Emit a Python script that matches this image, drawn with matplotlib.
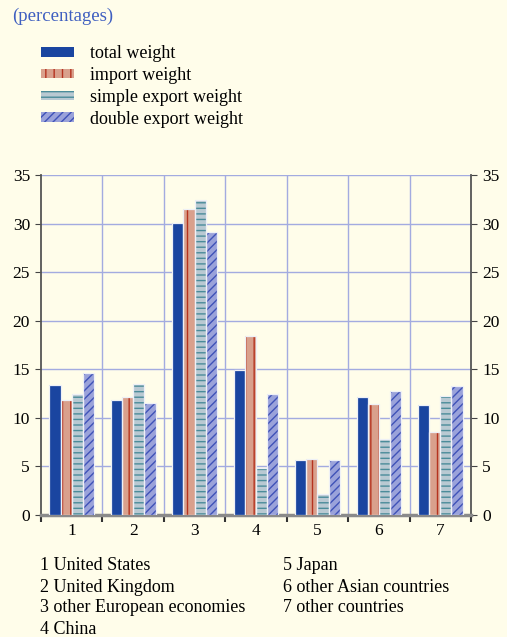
import numpy as np
import matplotlib.pyplot as plt
from matplotlib.patches import Patch

plt.rcParams['font.family'] = ['Liberation Serif', 'DejaVu Serif']
plt.rcParams['hatch.linewidth'] = 1.0

groups = ['1', '2', '3', '4', '5', '6', '7']
series = ['total weight', 'import weight', 'simple export weight', 'double export weight']
total = [13.4, 11.8, 30.1, 14.9, 5.7, 12.2, 11.3]
imports = [11.8, 12.2, 31.5, 18.4, 5.8, 11.4, 8.6]
simple_exp = [12.45, 13.5, 32.4, 4.8, 2.2, 7.8, 12.25]
double_exp = [14.6, 11.5, 29.1, 12.45, 5.7, 12.75, 13.3]
notes_left = ['1 United States', '2 United Kingdom', '3 other European economies', '4 China']
notes_right = ['5 Japan', '6 other Asian countries', '7 other countries']

bg = '#fffdea'
fills = ['#1a45a0', '#d9a08c', '#b9c9d2', '#9aa2da']
hatch_cols = [None, '#b5331f', '#4b8c9a', '#3f52b8']
hatches = [None, '||', '---', '////']

fig = plt.figure(figsize=(5.07, 6.37), dpi=100, facecolor=bg)
ax = fig.add_axes([0.081, 0.1915, 0.848, 0.5335], facecolor=bg)

x = np.arange(len(groups))
step = 0.182
width = 0.182
data = [total, imports, simple_exp, double_exp]
for i, vals in enumerate(data):
    pos = x + (i - 1.5) * step
    if hatches[i]:
        ax.bar(pos, vals, width, color=fills[i], linewidth=0, zorder=3)
        ax.bar(pos, vals, width, fill=False, hatch=hatches[i],
               edgecolor=hatch_cols[i], linewidth=0, zorder=4)
    else:
        ax.bar(pos, vals, width, color=fills[i], linewidth=0, zorder=3)
    ax.bar(pos, vals, width, fill=False, edgecolor='#eef0f6', linewidth=0.9, zorder=5)

ax.set_xlim(-0.5, 6.5)
ax.set_ylim(0, 35)
ax.set_yticks(np.arange(0, 36, 5))
ax.set_xticks(x)
ax.set_xticklabels(groups)
ax.set_xticks(np.arange(-0.5, 7, 1), minor=True)

grid_c = '#a3abe0'
for yv in range(5, 36, 5):
    ax.axhline(yv, color=grid_c, lw=1, zorder=1)
for xv in np.arange(0.5, 6.5, 1):
    ax.axvline(xv, color=grid_c, lw=1, zorder=1)

ax.tick_params(axis='y', which='both', left=True, right=True, labelleft=True,
               labelright=True, direction='out', length=4, color='#444444',
               labelsize=12.5, pad=4)
ax.tick_params(axis='x', which='major', length=0, labelsize=12.5, pad=6)
ax.tick_params(axis='x', which='minor', length=5, width=1.5, color='#333333', direction='out')

ax.spines['top'].set_visible(False)
for s in ['left', 'right']:
    ax.spines[s].set_color('#555555')
    ax.spines[s].set_linewidth(1.3)
ax.spines['bottom'].set_color('#8a8a8a')
ax.spines['bottom'].set_linewidth(2.5)

fig.text(12 / 507, 1 - 16 / 637, '(percentages)', color='#3f5fc0', fontsize=13.5,
         va='center', ha='left')

handles = []
for i in range(4):
    if hatches[i]:
        handles.append(Patch(facecolor=fills[i], edgecolor=hatch_cols[i], hatch=hatches[i], linewidth=0))
    else:
        handles.append(Patch(facecolor=fills[i], edgecolor=fills[i], linewidth=0))
fig.legend(handles, series, loc='upper left', bbox_to_anchor=(36 / 507, 1 - 40 / 637),
           frameon=False, fontsize=13, handlelength=1.8, handleheight=0.4,
           handletextpad=0.9, labelspacing=0.26, borderaxespad=0, borderpad=0.3)

for k, t in enumerate(notes_left):
    fig.text(40 / 507, 1 - (566 + 21 * k) / 637, t, fontsize=13, va='center', ha='left')
for k, t in enumerate(notes_right):
    fig.text(283 / 507, 1 - (566 + 21 * k) / 637, t, fontsize=13, va='center', ha='left')

fig.savefig('out.png', dpi=100, facecolor=bg)
